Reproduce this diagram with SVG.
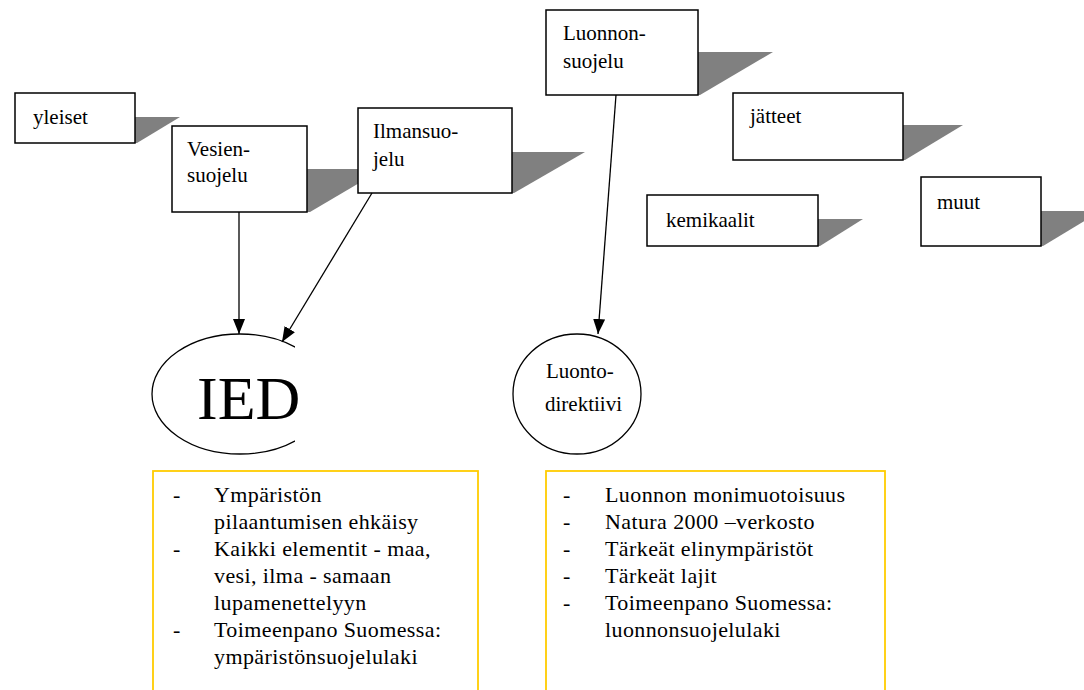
<svg xmlns="http://www.w3.org/2000/svg" width="1084" height="690" viewBox="0 0 1084 690">
<style>
.box{fill:#fff;stroke:#000;stroke-width:1.5}
.shadow{fill:#808080;stroke:none}
.lbl{font-family:"Liberation Serif","Times New Roman",serif;font-size:21px;fill:#000}
.list{font-family:"Liberation Serif","Times New Roman",serif;font-size:22px;letter-spacing:0.4px;fill:#000}
.ell{fill:#fff;stroke:#000;stroke-width:1.3}
.panel{fill:#fff;stroke:#FFCC00;stroke-width:1.8}
.conn{stroke:#000;stroke-width:1.3;fill:none}
</style>
<defs>
<marker id="arr" viewBox="0 0 15 12" refX="15" refY="6" markerWidth="15" markerHeight="12" markerUnits="userSpaceOnUse" orient="auto">
<path d="M0,0 L15,6 L0,12 z" fill="#000"/>
</marker>
<clipPath id="iedclip"><rect x="140" y="320" width="155" height="150"/></clipPath>
</defs>
<rect width="1084" height="690" fill="#fff"/>

<g id="shadows">
<polygon class="shadow" points="135,117 180,117 137,143 135,143"/>
<polygon class="shadow" points="307,169 383,169 310,212 307,212"/>
<polygon class="shadow" points="512,152 585,152 514,193 512,193"/>
<polygon class="shadow" points="698,52 773,52 700,95 698,95"/>
<polygon class="shadow" points="903,125 963,125 905,160 903,160"/>
<polygon class="shadow" points="818,219 863,219 820,246 818,246"/>
<polygon class="shadow" points="1041,211 1101,211 1043,246 1041,246"/>
</g>

<g id="yleiset">
<rect class="box" x="15" y="93" width="120" height="50"/>
<text class="lbl" x="33" y="124">yleiset</text>
</g>
<g id="vesiensuojelu">
<rect class="box" x="172" y="126" width="135" height="86"/>
<text class="lbl" x="187" y="156">Vesien-</text>
<text class="lbl" x="187" y="182">suojelu</text>
</g>
<g id="ilmansuojelu">
<rect class="box" x="358" y="108" width="154" height="85"/>
<text class="lbl" x="373" y="138">Ilmansuo-</text>
<text class="lbl" x="373" y="166">jelu</text>
</g>
<g id="luonnonsuojelu">
<rect class="box" x="546" y="10" width="152" height="85"/>
<text class="lbl" x="563" y="40">Luonnon-</text>
<text class="lbl" x="563" y="68">suojelu</text>
</g>
<g id="jatteet">
<rect class="box" x="733" y="93" width="170" height="67"/>
<text class="lbl" x="750" y="123">jätteet</text>
</g>
<g id="kemikaalit">
<rect class="box" x="647" y="195" width="171" height="51"/>
<text class="lbl" x="666" y="227">kemikaalit</text>
</g>
<g id="muut">
<rect class="box" x="921" y="177" width="120" height="69"/>
<text class="lbl" x="937" y="209">muut</text>
</g>

<g id="ied">
<ellipse class="ell" cx="240" cy="394" rx="88" ry="60" clip-path="url(#iedclip)"/>
<text x="197" y="419" font-family="Liberation Serif, Times New Roman, serif" font-size="62">IED</text>
</g>
<g id="luontodirektiivi">
<ellipse class="ell" cx="577" cy="394" rx="64" ry="60"/>
<text class="lbl" x="546" y="378">Luonto-</text>
<text class="lbl" x="545" y="411">direktiivi</text>
</g>

<g id="connectors">
<line class="conn" x1="239" y1="212" x2="239" y2="334" marker-end="url(#arr)"/>
<line class="conn" x1="372" y1="193" x2="282" y2="342" marker-end="url(#arr)"/>
<line class="conn" x1="616" y1="95" x2="598" y2="334" marker-end="url(#arr)"/>
</g>

<g id="ied-panel">
<rect class="panel" x="153" y="471" width="325" height="230"/>
<text class="list" x="173" y="502">-</text>
<text class="list" x="214" y="502">Ympäristön</text>
<text class="list" x="214" y="529">pilaantumisen ehkäisy</text>
<text class="list" x="173" y="556">-</text>
<text class="list" x="214" y="556">Kaikki elementit - maa,</text>
<text class="list" x="214" y="583">vesi, ilma - samaan</text>
<text class="list" x="214" y="610">lupamenettelyyn</text>
<text class="list" x="173" y="637">-</text>
<text class="list" x="214" y="637">Toimeenpano Suomessa:</text>
<text class="list" x="214" y="664">ympäristönsuojelulaki</text>
</g>
<g id="luonto-panel">
<rect class="panel" x="546" y="471" width="339" height="230"/>
<text class="list" x="563" y="502">-</text>
<text class="list" x="605" y="502">Luonnon monimuotoisuus</text>
<text class="list" x="563" y="529">-</text>
<text class="list" x="605" y="529">Natura 2000 –verkosto</text>
<text class="list" x="563" y="556">-</text>
<text class="list" x="605" y="556">Tärkeät elinympäristöt</text>
<text class="list" x="563" y="583">-</text>
<text class="list" x="605" y="583">Tärkeät lajit</text>
<text class="list" x="563" y="610">-</text>
<text class="list" x="605" y="610">Toimeenpano Suomessa:</text>
<text class="list" x="605" y="637">luonnonsuojelulaki</text>
</g>
</svg>
